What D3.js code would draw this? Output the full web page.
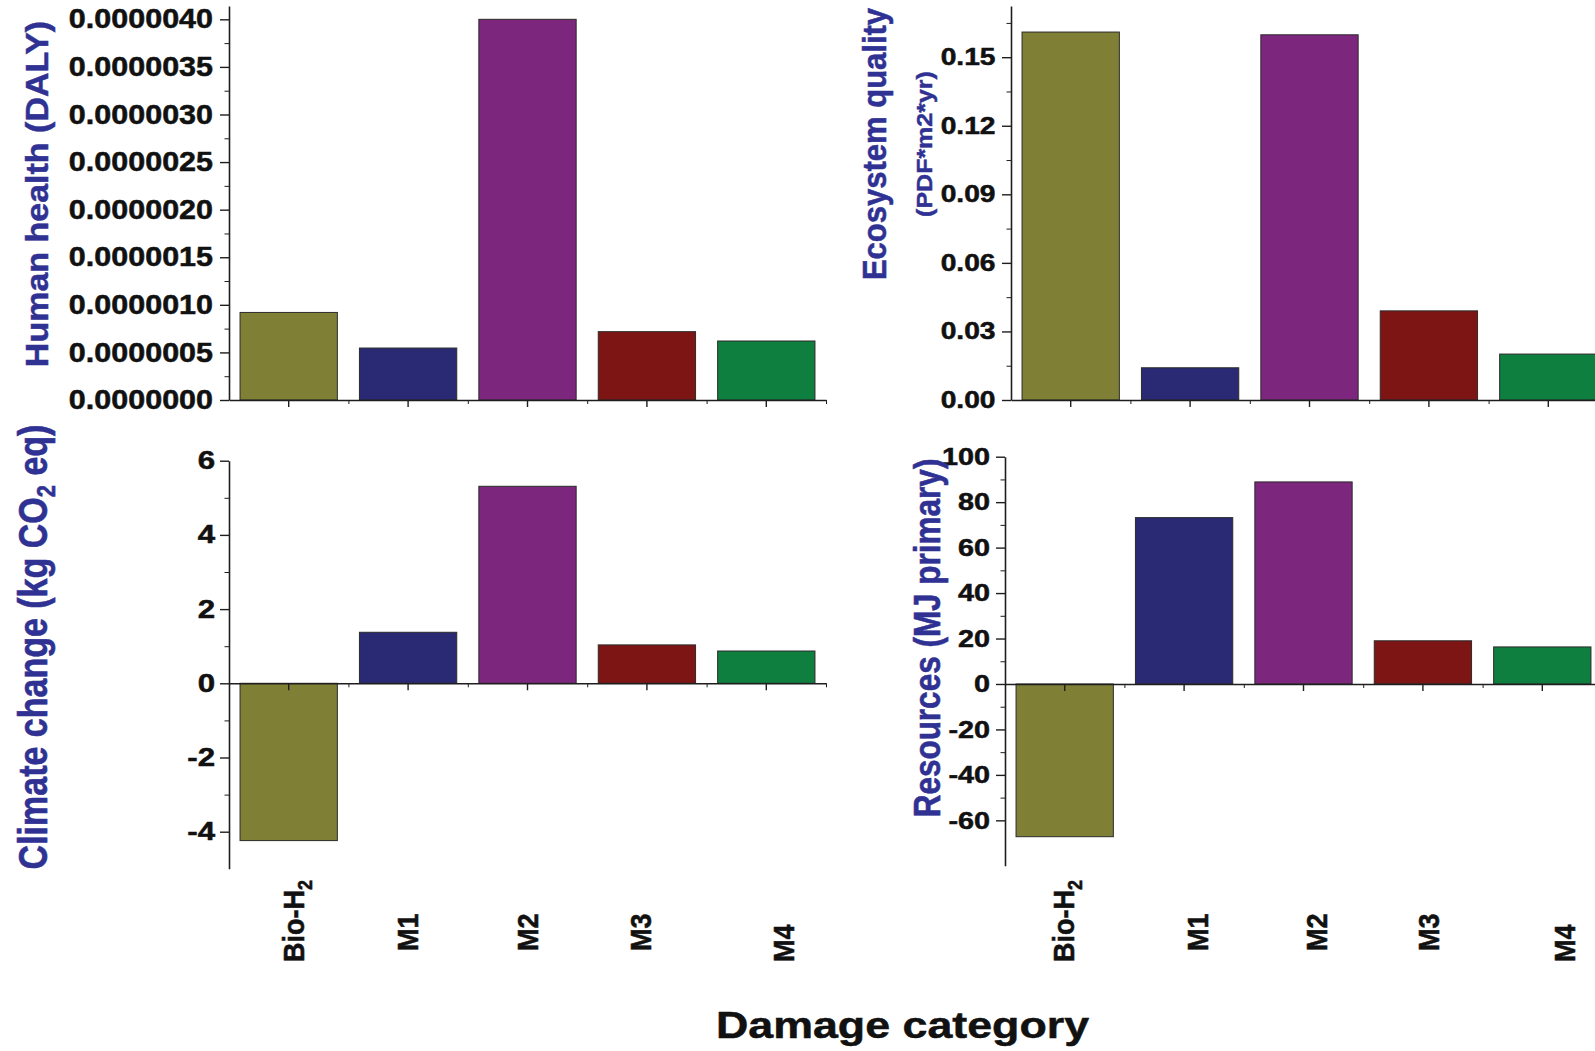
<!DOCTYPE html>
<html lang="en">
<head>
<meta charset="UTF-8">
<title>Damage category</title>
<script src="https://cdnjs.cloudflare.com/ajax/libs/d3/7.8.5/d3.min.js"></script>
<style>
    body { margin: 0; background: #fff; }
    svg text { font-family: "Liberation Sans", Arial, sans-serif; font-weight: bold; stroke: currentColor; stroke-width: 0.5px; }
</style>
</head>
<body>
<svg id="chart" width="1595" height="1051"></svg>
<script>
    // ---- data ----
    const categories = ["Bio-H2", "M1", "M2", "M3", "M4"];
    const humanHealth = [0.92e-6, 0.546e-6, 4.0e-6, 0.718e-6, 0.62e-6];
    const ecosystemQuality = [0.161, 0.0141, 0.1598, 0.039, 0.0201];
    const climateChange = [-4.24, 1.375, 5.31, 1.035, 0.87];
    const resources = [-67.2, 73.2, 88.9, 19.0, 16.3];
    const barColors = ["#7f7f35", "#2a2a74", "#7d267d", "#7d1515", "#0f7f3f"];

    const hhTicks = [0, 0.5e-6, 1.0e-6, 1.5e-6, 2.0e-6, 2.5e-6, 3.0e-6, 3.5e-6, 4.0e-6];
    const eqTicks = [0, 0.03, 0.06, 0.09, 0.12, 0.15];
    const ccTicks = [-4, -2, 0, 2, 4, 6];
    const rsTicks = [-60, -40, -20, 0, 20, 40, 60, 80, 100];

    // category labels were placed by hand in the original: small shifts
    const labelStartY = [962, 951, 951, 951, 962];

    const svg = d3.select("#chart");
    const titleBlue = "#2f3193";
    const axisColor = "#1e1e1e";

    // midpoints between major ticks
    function minorOf(ticks, maxV) {
        var step = ticks[1] - ticks[0];
        var out = [];
        ticks.forEach(t => { if (t + step / 2 <= maxV) out.push(t + step / 2); });
        return out;
    }

    // rotated text (reads bottom to top), sx stretches glyph height
    function vText(x, y, size, sx, color, anchor) {
        return svg.append("text")
            .attr("transform", "translate(" + x + "," + y + ") scale(" + sx + ",1) rotate(-90)")
            .attr("text-anchor", anchor || "middle")
            .style("font-size", size + "px")
            .style("color", color)
            .attr("fill", color);
    }

    function drawPanel(p) {
        var x = d3.scaleBand().domain(categories)
            .range([p.left, p.left + 597])
            .paddingInner(0.185).paddingOuter(0.0925);
        var y = d3.scaleLinear().domain(p.domain).range([p.bottom, p.top]);
        var g = svg.append("g");

        g.selectAll("rect.bar")
            .data(p.values)
            .join("rect")
            .attr("class", "bar")
            .attr("x", (d, i) => x(categories[i]))
            .attr("width", x.bandwidth())
            .attr("y", d => y(Math.max(0, d)))
            .attr("height", d => Math.abs(y(d) - y(0)))
            .attr("fill", (d, i) => barColors[i])
            .attr("stroke", "#2b2b2b")
            .attr("stroke-width", 1);

        // y axis, minor then major
        g.append("g")
            .attr("transform", "translate(" + p.left + ",0)")
            .style("color", axisColor)
            .call(d3.axisLeft(y).tickValues(minorOf(p.ticks, p.domain[1])).tickSize(4.5).tickSizeOuter(0).tickFormat(""))
            .call(a => a.select(".domain").remove());
        var ya = g.append("g")
            .attr("transform", "translate(" + p.left + ",0)")
            .style("color", axisColor)
            .call(d3.axisLeft(y).tickValues(p.ticks).tickSize(9).tickSizeOuter(0).tickFormat(p.fmt));
        ya.select(".domain").attr("stroke-width", 1.6);
        ya.selectAll(".tick line").attr("stroke-width", 1.4);
        ya.selectAll("text")
            .attr("x", -p.gap / p.tickSX)
            .attr("transform", "scale(" + p.tickSX + ",1)")
            .attr("fill", "#111")
            .style("color", "#111")
            .style("font-size", p.tickFont + "px");

        // x axis along zero: centre ticks + boundary ticks
        var bounds = d3.scaleLinear().domain([0, categories.length]).range(x.range());
        g.append("g")
            .attr("transform", "translate(0," + y(0) + ")")
            .style("color", axisColor)
            .call(d3.axisBottom(bounds).tickValues([1, 2, 3, 4, 5]).tickSize(4).tickSizeOuter(0).tickFormat(""))
            .call(a => a.select(".domain").remove());
        var xa = g.append("g")
            .attr("transform", "translate(0," + y(0) + ")")
            .style("color", axisColor)
            .call(d3.axisBottom(x).tickSize(7).tickSizeOuter(0).tickFormat(""));
        xa.select(".domain").attr("stroke-width", 1.6);
        xa.selectAll(".tick line").attr("stroke-width", 1.4);

        if (p.labelNudge) {
            categories.forEach((c, i) => {
                var t = vText(x(c) + x.bandwidth() / 2 + p.labelNudge[i], labelStartY[i], 27, 1.12, "#111", "start");
                if (c === "Bio-H2") {
                    t.append("tspan").text("Bio-H");
                    t.append("tspan").attr("dy", 7).style("font-size", "18px").text("2");
                } else {
                    t.text(c);
                }
            });
        }
    }

    drawPanel({
        values: humanHealth, left: 229, top: 6, bottom: 400, domain: [0, 4.14e-6],
        ticks: hhTicks, fmt: d3.format(".7f"), tickFont: 27, tickSX: 1.13, gap: 16
    });
    drawPanel({
        values: ecosystemQuality, left: 1011, top: 6, bottom: 400, domain: [0, 0.1724],
        ticks: eqTicks, fmt: d3.format(".2f"), tickFont: 23.5, tickSX: 1.2, gap: 15.5
    });
    drawPanel({
        values: climateChange, left: 229, top: 460.7, bottom: 868.8, domain: [-5, 6],
        ticks: ccTicks, fmt: d => String(d), tickFont: 25, tickSX: 1.25, gap: 14,
        labelNudge: [15, 9.5, 10.5, 4.5, 27.5]
    });
    drawPanel({
        values: resources, left: 1005, top: 456.7, bottom: 865.8, domain: [-80, 100],
        ticks: rsTicks, fmt: d => String(d), tickFont: 24, tickSX: 1.2, gap: 15,
        labelNudge: [9.5, 23.5, 23.5, 16.5, 32.5]
    });

    // y axis titles
    vText(48, 194, 34, 0.93, titleBlue).text("Human health (DALY)");
    vText(886, 144, 31, 1.07, titleBlue).text("Ecosystem quality");
    vText(932, 144, 25, 0.85, titleBlue).text("(PDF*m2*yr)");
    var cc = vText(47, 647, 34, 1.2, titleBlue);
    cc.append("tspan").text("Climate change (kg CO");
    cc.append("tspan").attr("dy", 7).style("font-size", "22px").text("2");
    cc.append("tspan").attr("dy", -7).text(" eq)");
    vText(940, 638, 31.5, 1.18, titleBlue).text("Resources (MJ primary)");

    // shared x title
    svg.append("text")
        .attr("transform", "translate(902.5,1038) scale(1.21,1)")
        .attr("text-anchor", "middle")
        .style("font-size", "37px")
        .style("color", "#111")
        .attr("fill", "#111")
        .text("Damage category");
</script>
</body>
</html>
